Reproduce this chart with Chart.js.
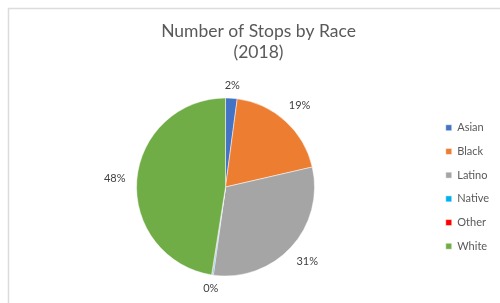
<!DOCTYPE html>
<html>
<head>
<meta charset="utf-8">
<script src="https://cdn.jsdelivr.net/npm/chart.js@4"></script>
<style>
  html, body { margin: 0; padding: 0; background: #fff; }
  #wrap { width: 500px; height: 303px; position: relative; }
</style>
</head>
<body>
<div id="wrap"><canvas id="myChart" width="500" height="303"></canvas></div>
<script>
// datos del grafico
const razas = ["Asian", "Black", "Latino", "Native", "Other", "White"];
const porcentajes = [2.1, 19.3, 30.8, 0.2, 0.1, 47.5];
const colores = ["#4472C4", "#ED7D31", "#A5A5A5", "#00B0F0", "#FF0000", "#70AD47"];
const titulo = ["Number of Stops by Race", "(2018)"];

const fuente = "Lato, 'Open Sans', sans-serif";

// marco gris claro del grafico (esquina superior izquierda)
const marco = {
    id: "marco",
    beforeDraw(chart) {
        const ctx = chart.ctx;
        ctx.save();
        ctx.strokeStyle = "#dcdcdc";
        ctx.lineWidth = 1.5;
        ctx.beginPath();
        ctx.moveTo(8.5, chart.height);
        ctx.lineTo(8.5, 8.5);
        ctx.lineTo(chart.width, 8.5);
        ctx.stroke();
        ctx.restore();
    }
};

// etiquetas de porcentaje fuera de cada porcion (sin repetir las que caen en el mismo lugar)
const etiquetas = {
    id: "etiquetas",
    afterDatasetsDraw(chart) {
        const ctx = chart.ctx;
        const meta = chart.getDatasetMeta(0);
        const total = porcentajes.reduce((a, b) => a + b, 0);
        const puestas = [];
        ctx.save();
        ctx.font = "11px " + fuente;
        ctx.fillStyle = "#404040";
        ctx.textAlign = "center";
        ctx.textBaseline = "middle";
        meta.data.forEach((arc, i) => {
            const texto = Math.round(porcentajes[i] / total * 100) + "%";
            const ang = (arc.startAngle + arc.endAngle) / 2;
            const hw = ctx.measureText(texto).width / 2;
            const hh = 6;
            const d = arc.outerRadius + 6 + Math.abs(Math.cos(ang)) * (hw + 5) + Math.abs(Math.sin(ang)) * hh;
            const x = arc.x + Math.cos(ang) * d;
            const y = arc.y + Math.sin(ang) * d;
            if (puestas.some(p => p.t === texto && Math.abs(p.x - x) < 6 && Math.abs(p.y - y) < 6)) return;
            puestas.push({ t: texto, x: x, y: y });
            ctx.fillText(texto, x, y);
        });
        ctx.restore();
    }
};

const config = {
    type: "pie",
    data: {
        labels: razas,
        datasets: [{
            data: porcentajes,
            backgroundColor: colores,
            borderColor: "#ffffff",
            borderWidth: 0.5,
            radius: 89
        }]
    },
    options: {
        responsive: false,
        animation: false,
        layout: { padding: { left: 18, right: 1, top: 0, bottom: 0 } },
        plugins: {
            title: {
                display: true,
                text: titulo,
                color: "#595959",
                font: { family: fuente, size: 17.5, weight: "normal", lineHeight: 1.2 },
                padding: { top: 21, bottom: 8 }
            },
            legend: {
                position: "right",
                fullSize: false,
                labels: {
                    boxWidth: 6,
                    boxHeight: 6,
                    padding: 12.7,
                    color: "#595959",
                    font: { family: fuente, size: 11 }
                }
            },
            tooltip: { enabled: false }
        }
    },
    plugins: [marco, etiquetas]
};

new Chart(document.getElementById("myChart"), config);
</script>
</body>
</html>
